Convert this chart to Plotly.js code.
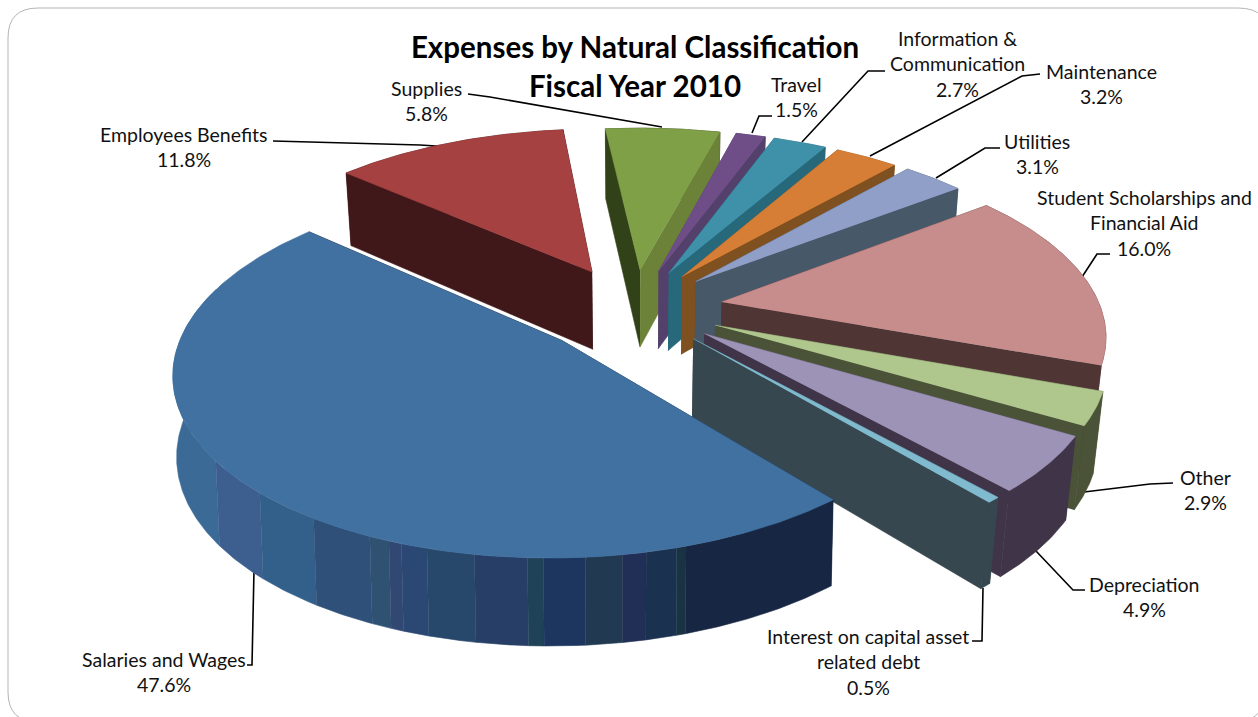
<!DOCTYPE html>
<html><head><meta charset="utf-8">
<script src="https://cdn.plot.ly/plotly-3.0.1.min.js"></script>
<style>html,body{margin:0;padding:0;background:#fff}#c{width:1258px;height:717px}</style></head>
<body><div id="c"></div>
<script>
// ---- data ----
var categories = ["Salaries and Wages","Employees Benefits","Supplies","Travel","Information & Communication","Maintenance","Utilities","Student Scholarships and Financial Aid","Other","Depreciation","Interest on capital asset related debt"];
var shares = [47.6,11.8,5.8,1.5,2.7,3.2,3.1,16.0,2.9,4.9,0.5];
var labelLines = [["Salaries and Wages"],["Employees Benefits"],["Supplies"],["Travel"],["Information &","Communication"],["Maintenance"],["Utilities"],["Student Scholarships and","Financial Aid"],["Other"],["Depreciation"],["Interest on capital asset","related debt"]];

// ---- styles ----
var topColors  = ["#4071A1","#A64141","#80A048","#6F4E88","#3E91A9","#D67E35","#8F9FC8","#C78C8C","#AFC68D","#9D93B7","#7FBACE"];
var sideColors = ["#172743","#40181A","#324218","#53406B","#27687A","#7F5020","#475869","#503535","#4A5238","#403548","#37474F"];
var endFaceColors = ["#172743","#40181A","#6B8238","#53406B","#27687A","#7F5020","#475869","#503535","#4A5238","#403548","#37474F"];
var drawOrder = [1,2,3,4,5,6,7,8,9,10,0];
var stripeEdges  = [100,216,260,314,370,390,403,428,475,528,544,586,624,647,678,687,900];
var stripeColors = ["#3A6A95","#3D5F90","#33608A","#2F5079","#2F5272","#314872","#2A4873","#27486A","#273E66","#204258","#1C3660","#223952","#212E55","#1B3150","#1A3344","#172743"];
var labelX = [164,184,426,796,957,1101,1037,1144,1205,1144,868];
var labelY = [659,134,88,84,38,71,141,197,477,584,636];
var sliceDx = [-12,-6,-2,-2,-2,-2,-1,2,1,1,0];
var sliceDy = [4,-2,0,0,0,0,0,0,0,0,0];
var sliceR  = [372,379,379,379,379,379,379,379,379,379,379];
var sliceLean = [0.008,0.02,0.02,0.02,0.02,0.02,0.02,0.02,0.02,0.02,0.02];
var leaders = [
 [[247,252,254],[665,665,570]],
 [[273,420,452],[141,145,147]],
 [[468,490,662],[94,97,127]],
 [[772,759,752],[116,116,133]],
 [[885,868,802],[71,71,142]],
 [[1040,1022,870],[74,76,156]],
 [[1000,985,936],[148,148,178]],
 [[1110,1097,1082],[254,254,277]],
 [[1173,1150,1084],[483,484,492]],
 [[1085,1073,1036],[590,590,551]],
 [[972,982,983],[641,641,588]]
];
// ---- projection ----
var Cx=636,Cy=308,pull=85,D=2334,k=0.465,H=81,zk=0.028,phi0=140;
var curDx=0,curDy=0,curLean=0.02,R=379;
function proj(thetaDeg,r,midDeg,z){
  var t=thetaDeg*Math.PI/180,m=midDeg*Math.PI/180;
  var X=r*Math.sin(t)+pull*Math.sin(m),Y=r*Math.cos(t)+pull*Math.cos(m);
  var w=1+Y/D+z*zk,wx=1+Y/D+z*curLean;
  return [Cx+curDx+X/wx,Cy+curDy-k*Y/w+H*z/w];
}
function poly(pts,col){
  return {type:"scatter",mode:"lines",x:pts.map(function(p){return p[0]}),y:pts.map(function(p){return p[1]}),
    fill:"toself",fillcolor:col,line:{color:col,width:0.6},hoverinfo:"skip",showlegend:false};
}
function rimBand(a,b,mid){
  var top=[],bot=[],n=Math.max(2,Math.ceil(Math.abs(b-a)/0.5));
  for(var i=0;i<=n;i++){var th=a+(b-a)*i/n;top.push(proj(th,R,mid,0));bot.push(proj(th,R,mid,1));}
  return top.concat(bot.reverse());
}
var traces=[];
leaders.forEach(function(l){traces.push({type:"scatter",mode:"lines",x:l[0],y:l[1],line:{color:"#000",width:1.6},hoverinfo:"skip",showlegend:false});});
var starts=[],acc=phi0;
shares.forEach(function(s){starts.push(acc);acc+=s*3.6;});
drawOrder.forEach(function(i){
  var a=starts[i],b=a+shares[i]*3.6,mid=(a+b)/2;
  curDx=sliceDx[i];curDy=sliceDy[i];curLean=sliceLean[i];R=sliceR[i];
  var parts=[
    {d:Math.cos(a*Math.PI/180),t:[poly([proj(a,0,mid,0),proj(a,R,mid,0),proj(a,R,mid,1),proj(a,0,mid,1)],sideColors[i])]},
    {d:Math.cos(b*Math.PI/180),t:[poly([proj(b,0,mid,0),proj(b,R,mid,0),proj(b,R,mid,1),proj(b,0,mid,1)],endFaceColors[i])]}
  ];
  var wall=[];
  if(i===0){
    // the long outer wall, banded by screen position
    var bands={};
    for(var th=a;th<=b;th+=0.25){
      var px=proj(th,R,mid,0)[0];
      for(var s=0;s<stripeColors.length;s++){
        if(px>=stripeEdges[s]&&px<stripeEdges[s+1]){(bands[s]=bands[s]||[]).push(th);break;}
      }
    }
    Object.keys(bands).forEach(function(s){
      var g=bands[s],run=[g[0]];
      for(var j=1;j<g.length;j++){if(g[j]-g[j-1]>0.3)break;run.push(g[j]);}
      wall.push(poly(rimBand(run[0],run[run.length-1]+0.25,mid),stripeColors[s]));
    });
  } else {
    wall.push(poly(rimBand(a,b,mid),sideColors[i]));
  }
  parts.push({d:Math.cos(mid*Math.PI/180),t:wall});
  parts.sort(function(p,q){return q.d-p.d});
  parts.forEach(function(p){p.t.forEach(function(tr){traces.push(tr);});});
  var t=[proj(a,0,mid,0)],n=Math.ceil((b-a)/0.5);
  for(var q=0;q<=n;q++){t.push(proj(a+(b-a)*q/n,R,mid,0));}
  traces.push(poly(t,topColors[i]));
});
// ---- labels ----
var anns=[];
categories.forEach(function(c,i){
  var lines=labelLines[i].concat([shares[i].toFixed(1)+"%"]);
  lines.forEach(function(tx,j){
    anns.push({x:labelX[i],y:labelY[i]+j*25.5,xref:"x",yref:"y",text:tx.replace("&","&amp;"),showarrow:false,xanchor:"center",yanchor:"middle",
      font:{family:"Lato, Carlito, sans-serif",size:19.5,color:"#111"}});
  });
});
var layout={
  width:1258,height:717,margin:{l:0,r:0,t:0,b:0},paper_bgcolor:"#fff",plot_bgcolor:"#fff",showlegend:false,
  title:{text:"Expenses by Natural Classification<br>Fiscal Year 2010",x:635/1258,xanchor:"center",y:0.9186,yanchor:"top",yref:"container",
    font:{family:"Lato, Carlito, sans-serif",size:29.5,color:"#000",weight:700}},
  xaxis:{range:[0,1258],visible:false,fixedrange:true},
  yaxis:{range:[717,0],visible:false,fixedrange:true},
  annotations:anns,
  shapes:[{type:"path",xref:"x",yref:"y",layer:"below",path:"M 8 38 Q 8 8 38 8 L 1238 8 Q 1270 8 1270 40 L 1268 680 Q 1268 722 1235 722 L 38 722 Q 8 722 8 692 Z",line:{color:"#B4B4B4",width:1},fillcolor:"#fff"}]
};
Plotly.newPlot("c",traces,layout,{displayModeBar:false,staticPlot:true});
</script></body></html>
